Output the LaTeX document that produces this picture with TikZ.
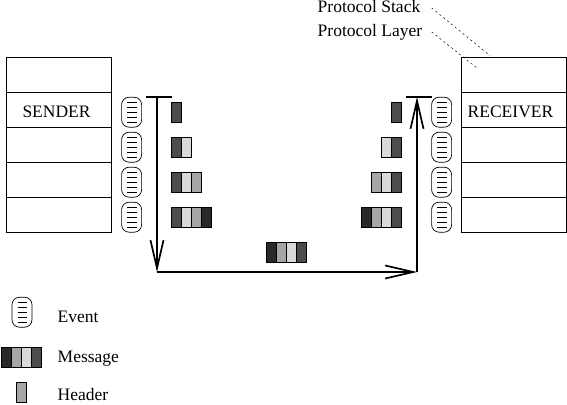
\documentclass[tikz,border=0pt]{standalone}
\usepackage{fontspec}
\setmainfont{Liberation Serif}
\usetikzlibrary{arrows.meta}
\definecolor{hA}{gray}{0.30}
\definecolor{hB}{gray}{0.85}
\definecolor{hC}{gray}{0.65}
\definecolor{hD}{gray}{0.16}
\tikzset{
  x=1pt,y=-1pt,
  layerbox/.style={draw,line width=0.8pt,minimum width=105pt,minimum height=35pt,inner sep=0pt,outer sep=0pt,anchor=north west},
  hdr/.style={draw,line width=0.8pt,fill=#1,minimum width=10pt,minimum height=19.6pt,inner sep=0pt,outer sep=0pt,anchor=north west},
  evbox/.style={draw,line width=0.7pt,rounded corners=7.5pt,minimum width=20pt,minimum height=30pt,inner sep=0pt,outer sep=0pt,anchor=north west},
  lbl/.style={inner sep=0pt,anchor=base west,font=\fontsize{17.5}{18}\selectfont},
  flow/.style={line width=1.6pt},
  bar/.style={line width=1.6pt},
  barb/.style={-{Straight Barb[length=28pt,width=13pt,line width=1.7pt]}},
  leader/.style={line width=0.5pt,dash pattern=on 2pt off 3pt}
}
\newcommand{\evt}[3]{%
  \node[evbox] (#1) at (#2,#3) {};
  \foreach \d in {5.5,10.5,15.5,20.5,25.5}
    \draw[line width=0.7pt] ([xshift=5.6pt,yshift=-\d pt]#1.north west) -- ([xshift=15pt,yshift=-\d pt]#1.north west);
}
\begin{document}
\begin{tikzpicture}
\useasboundingbox (0,0) rectangle (567,404);
% stacks
\node[layerbox] (s0) at (6.3,57.3) {};
\node[layerbox] (s1) at (6.3,92.3) {};
\node[layerbox] (s2) at (6.3,127.3) {};
\node[layerbox] (s3) at (6.3,162.3) {};
\node[layerbox] (s4) at (6.3,197.3) {};
\node[layerbox] (r0) at (461.3,57.3) {};
\node[layerbox] (r1) at (461.3,92.3) {};
\node[layerbox] (r2) at (461.3,127.3) {};
\node[layerbox] (r3) at (461.3,162.3) {};
\node[layerbox] (r4) at (461.3,197.3) {};
\node[lbl] (tsender) at (22.3,117.5) {SENDER};
\node[lbl] (treceiver) at (467.5,117.5) {RECEIVER};
% events
\evt{ea}{121.6}{97.2}
\evt{eb}{121.6}{132.2}
\evt{ec}{121.6}{167.2}
\evt{ed}{121.6}{202.2}
\evt{fa}{431.6}{97.2}
\evt{fb}{431.6}{132.2}
\evt{fc}{431.6}{167.2}
\evt{fd}{431.6}{202.2}
\evt{le}{12}{297.2}
% sender messages
\node[hdr=hA] (a1) at (171.7,102.6) {};
\node[hdr=hA] (b1) at (171.7,137.6) {};
\node[hdr=hB] (b2) at (181.7,137.6) {};
\node[hdr=hA] (c1) at (171.7,172.6) {};
\node[hdr=hB] (c2) at (181.7,172.6) {};
\node[hdr=hC] (c3) at (191.7,172.6) {};
\node[hdr=hA] (d1) at (171.7,207.6) {};
\node[hdr=hB] (d2) at (181.7,207.6) {};
\node[hdr=hC] (d3) at (191.7,207.6) {};
\node[hdr=hD] (d4) at (201.7,207.6) {};
% receiver messages
\node[hdr=hA] (p1) at (391.3,102.6) {};
\node[hdr=hA] (q1) at (391.3,137.6) {};
\node[hdr=hB] (q2) at (381.3,137.6) {};
\node[hdr=hA] (u1) at (391.3,172.6) {};
\node[hdr=hB] (u2) at (381.3,172.6) {};
\node[hdr=hC] (u3) at (371.3,172.6) {};
\node[hdr=hA] (v1) at (391.3,207.6) {};
\node[hdr=hB] (v2) at (381.3,207.6) {};
\node[hdr=hC] (v3) at (371.3,207.6) {};
\node[hdr=hD] (v4) at (361.3,207.6) {};
% message in transit
\node[hdr=hD] (m1) at (266.7,242.6) {};
\node[hdr=hC] (m2) at (276.7,242.6) {};
\node[hdr=hB] (m3) at (286.7,242.6) {};
\node[hdr=hA] (m4) at (296.7,242.6) {};
% legend
\node[hdr=hD] (l1) at (1.7,347.6) {};
\node[hdr=hC] (l2) at (11.7,347.6) {};
\node[hdr=hB] (l3) at (21.7,347.6) {};
\node[hdr=hA] (l4) at (31.7,347.6) {};
\node[hdr=hC] (lh) at (16.4,382.6) {};
\node[lbl] (te) at (57.5,322.5) {Event};
\node[lbl] (tm) at (57.5,362.5) {Message};
\node[lbl] (th) at (57.5,400.5) {Header};
% flow
\coordinate (bl1) at (146,97);
\coordinate (bl2) at (172,97);
\coordinate (br1) at (406,97);
\coordinate (br2) at (431.7,97);
\coordinate (st) at (157,97);
\coordinate (sb) at (157,272);
\coordinate (rb) at (417,272);
\coordinate (rt) at (417,97);
\draw[bar] (bl1) -- (bl2);
\draw[bar] (br1) -- (br2);
\draw[flow,barb] (st) -- (sb);
\draw[flow,barb] (sb) -- (rb);
\draw[flow,barb] (rb) -- (rt);
% labels and leaders
\node[lbl] (ps) at (317.5,13) {Protocol Stack};
\node[lbl] (pl) at (317.5,37) {Protocol Layer};
\coordinate (ps1) at (431.7,8);
\coordinate (ps2) at (490,55.7);
\coordinate (pl1) at (431.7,32);
\coordinate (pl2) at (477,68);
\draw[leader] (ps1) -- (ps2);
\draw[leader] (pl1) -- (pl2);
\end{tikzpicture}
\end{document}
